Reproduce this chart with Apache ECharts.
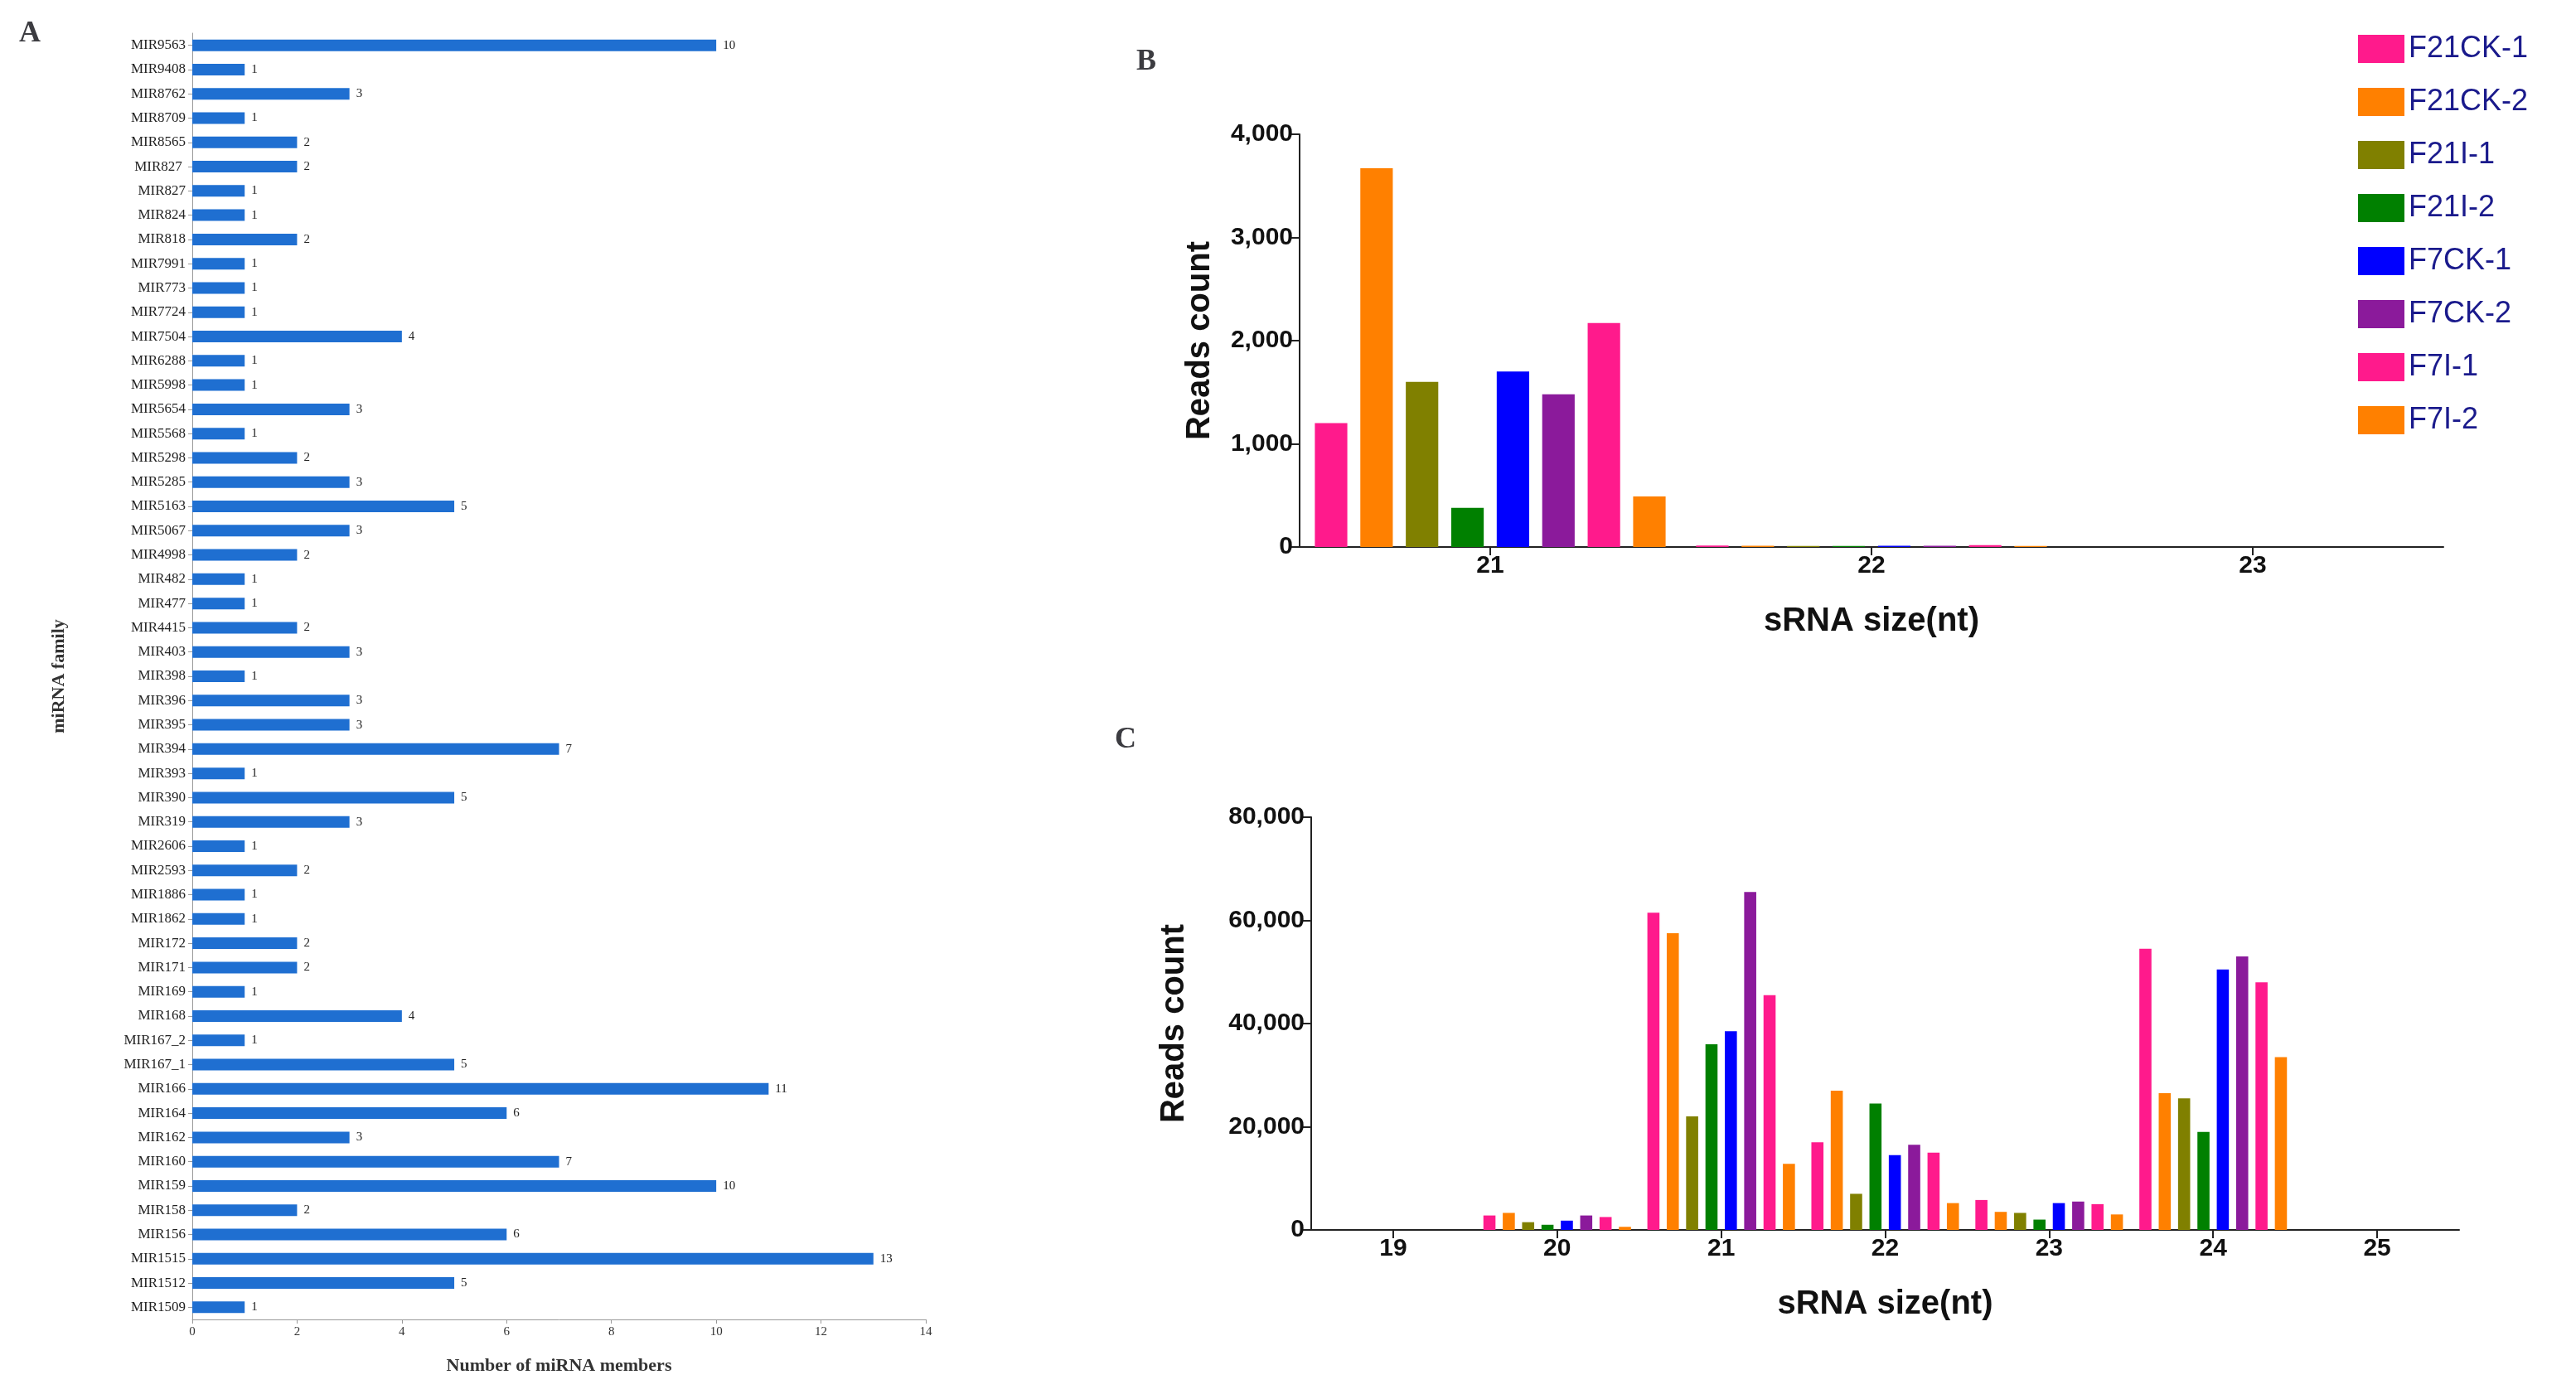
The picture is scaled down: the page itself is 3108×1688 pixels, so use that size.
<!DOCTYPE html>
<html>
<head>
<meta charset="utf-8">
<script src="https://cdn.jsdelivr.net/npm/echarts@6/dist/echarts.min.js"></script>
<style>html,body{margin:0;background:#fff}#c{width:3108px;height:1688px}</style>
</head>
<body>
<div id="c"></div>
<script>
// panel A: miRNA families (bottom to top)
const families = ["MIR1509","MIR1512","MIR1515","MIR156","MIR158","MIR159","MIR160","MIR162","MIR164","MIR166","MIR167_1","MIR167_2","MIR168","MIR169","MIR171","MIR172","MIR1862","MIR1886","MIR2593","MIR2606","MIR319","MIR390","MIR393","MIR394","MIR395","MIR396","MIR398","MIR403","MIR4415","MIR477","MIR482","MIR4998","MIR5067","MIR5163","MIR5285","MIR5298","MIR5568","MIR5654","MIR5998","MIR6288","MIR7504","MIR7724","MIR773","MIR7991","MIR818","MIR824","MIR827","MIR827 ","MIR8565","MIR8709","MIR8762","MIR9408","MIR9563"];
const members = [1,5,13,6,2,10,7,3,6,11,5,1,4,1,2,2,1,1,2,1,3,5,1,7,3,3,1,3,2,1,1,2,3,5,3,2,1,3,1,1,4,1,1,1,2,1,1,2,2,1,3,1,10];

// legend / samples
const samples = ["F21CK-1","F21CK-2","F21I-1","F21I-2","F7CK-1","F7CK-2","F7I-1","F7I-2"];
const colors = ["#ff1a8c","#ff8000","#808000","#008000","#0000ff","#8b1a9b","#ff1a8c","#ff8000"];

// panel B
const sizesB = ["21","22","23"];
const readsB = [
  [1200,15,0],[3670,12,0],[1600,10,0],[380,10,0],
  [1700,12,0],[1480,12,0],[2170,18,0],[490,10,0]
];

// panel C
const sizesC = ["19","20","21","22","23","24","25"];
const readsC = [
  [0,2800,61500,17000,5800,54500,0],
  [0,3300,57500,27000,3500,26500,0],
  [0,1500,22000,7000,3300,25500,0],
  [0,1000,36000,24500,2000,19000,0],
  [0,1800,38500,14500,5200,50500,0],
  [0,2800,65500,16500,5500,53000,0],
  [0,2500,45500,15000,5000,48000,0],
  [0,600,12800,5200,3000,33500,0]
];

const chart = echarts.init(document.getElementById("c"));
const boldAxis = {
  axisLine: { show: true, lineStyle: { color: "#222", width: 2 } },
  axisTick: { show: true, alignWithLabel: true, length: 10, lineStyle: { color: "#222", width: 2 } },
  axisLabel: { color: "#111", fontSize: 30, fontWeight: "bold", fontFamily: "Arial" },
  splitLine: { show: false },
  nameTextStyle: { color: "#111", fontSize: 40, fontWeight: "bold", fontFamily: "Arial" }
};
const serif = "Liberation Serif";

const series = [{
  type: "bar", xAxisIndex: 0, yAxisIndex: 0, data: members,
  itemStyle: { color: "#1f6fd1" }, barWidth: 14,
  label: { show: true, position: "right", fontSize: 15, fontFamily: serif, color: "#222", distance: 8 }
}];
samples.forEach((s, i) => {
  series.push({ name: s, type: "bar", xAxisIndex: 1, yAxisIndex: 1, data: readsB[i],
    itemStyle: { color: colors[i] }, barGap: "40%", barCategoryGap: "8%" });
  series.push({ name: s, type: "bar", xAxisIndex: 2, yAxisIndex: 2, data: readsC[i],
    itemStyle: { color: colors[i] }, barGap: "60%", barCategoryGap: "10%" });
});

chart.setOption({
  animation: false,
  title: [
    { text: "A", left: 18, top: 18, textStyle: { fontSize: 36, fontWeight: "bold", fontFamily: serif } },
    { text: "B", left: 1366, top: 52, textStyle: { fontSize: 36, fontWeight: "bold", fontFamily: serif } },
    { text: "C", left: 1340, top: 870, textStyle: { fontSize: 36, fontWeight: "bold", fontFamily: serif } }
  ],
  legend: {
    data: samples, orient: "vertical", left: 2840, top: 36, itemGap: 28,
    itemWidth: 56, itemHeight: 34, icon: "rect",
    textStyle: { color: "#1a1a8c", fontSize: 36, fontFamily: "Arial" }
  },
  grid: [
    { left: 232, top: 40, width: 885, height: 1552 },
    { left: 1568, top: 162, width: 1380, height: 498 },
    { left: 1582, top: 986, width: 1385, height: 498 }
  ],
  xAxis: [
    { type: "value", gridIndex: 0, min: 0, max: 14, interval: 2,
      name: "Number of miRNA members", nameLocation: "middle", nameGap: 45,
      nameTextStyle: { fontSize: 22, fontWeight: "bold", fontFamily: serif, color: "#333" },
      axisLine: { show: true, lineStyle: { color: "#999" } },
      axisTick: { show: true, lineStyle: { color: "#999" } },
      axisLabel: { fontSize: 15, fontFamily: serif, color: "#333" }, splitLine: { show: false } },
    Object.assign({}, boldAxis, { type: "category", gridIndex: 1, data: sizesB,
      name: "sRNA size(nt)", nameLocation: "middle", nameGap: 70 }),
    Object.assign({}, boldAxis, { type: "category", gridIndex: 2, data: sizesC,
      name: "sRNA size(nt)", nameLocation: "middle", nameGap: 70 })
  ],
  yAxis: [
    { type: "category", gridIndex: 0, data: families,
      name: "miRNA family", nameLocation: "middle", nameGap: 150,
      nameTextStyle: { fontSize: 22, fontWeight: "bold", fontFamily: serif, color: "#333" },
      axisLine: { show: true, lineStyle: { color: "#999" } },
      axisTick: { show: true, alignWithLabel: true, lineStyle: { color: "#999" } },
      axisLabel: { fontSize: 17, fontFamily: serif, color: "#222", interval: 0 } },
    Object.assign({}, boldAxis, { type: "value", gridIndex: 1, min: 0, max: 4000, interval: 1000,
      name: "Reads count", nameLocation: "middle", nameGap: 100 }),
    Object.assign({}, boldAxis, { type: "value", gridIndex: 2, min: 0, max: 80000, interval: 20000,
      name: "Reads count", nameLocation: "middle", nameGap: 145,
      axisLabel: Object.assign({}, boldAxis.axisLabel, { formatter: v => v.toLocaleString("en-US") }) })
  ],
  series: series
});
</script>
</body>
</html>
